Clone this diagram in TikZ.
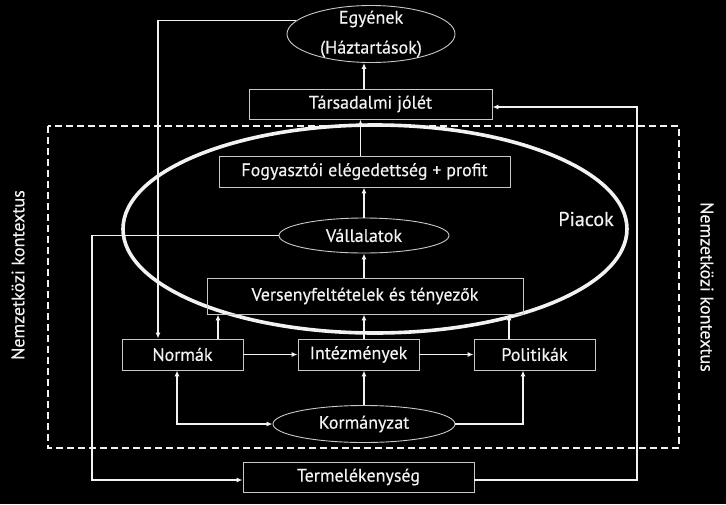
\documentclass[tikz,border=0pt]{standalone}
\usepackage{fontspec}
\setmainfont{PT Sans}[FakeBold=0.4]
\usetikzlibrary{arrows.meta,positioning,shapes.geometric,calc}
\definecolor{InkWhite}{HTML}{F2F2F2}
\definecolor{EdgeGray}{HTML}{C8C8C8}
\tikzset{
  panel/.style={draw=EdgeGray, line width=0.9pt, text=InkWhite, align=center,
    inner sep=0pt, font=\fontsize{18}{21}\selectfont},
  oval/.style={panel, ellipse},
  market/.style={draw=InkWhite, line width=3.6pt, ellipse, inner sep=0pt},
  wire/.style={-{Latex[length=6pt,width=5pt]}, draw=InkWhite, line width=1.3pt},
  bothwire/.style={wire, {Latex[length=6pt,width=5pt]}-{Latex[length=6pt,width=5pt]}},
  frame/.style={draw=InkWhite, line width=1.5pt, dash pattern=on 7pt off 4pt},
  sidelabel/.style={text=InkWhite, font=\fontsize{18}{21}\selectfont}
}

\begin{document}
\begin{tikzpicture}[x=1pt, y=-1pt]
  \fill[black] (0,0) rectangle (726,504);
  \useasboundingbox (0,0) rectangle (726,504);
  % context frame and market oval
  \draw[frame] (48,126) rectangle (679,448);
  \node[market, minimum width=504, minimum height=208] (piac) at (375,229) {};
  \node[sidelabel, font=\fontsize{20}{24}\selectfont] (piaclbl) at (586,219) {Piacok};
  \node[sidelabel, rotate=90] (ctxleft) at (18,275) {Nemzetközi kontextus};
  \node[sidelabel, rotate=-90] (ctxright) at (707,287) {Nemzetközi kontextus};
  % nodes
  \node[oval, minimum width=168, minimum height=57, inner sep=-10pt,
    font=\fontsize{18}{30}\selectfont] (egy) at (371,34) {Egyének\\(Háztartások)};
  \node[panel, minimum width=243, minimum height=30] (soc) at (370.5,104) {Társadalmi jólét};
  \node[panel, minimum width=291, minimum height=31] (fogy) at (364.5,171.5) {Fogyasztói elégedettség + profit};
  \node[oval, minimum width=170, minimum height=35, inner sep=-4pt] (vall) at (364,235.5) {Vállalatok};
  \node[panel, minimum width=316, minimum height=36] (vers) at (365,296) {Versenyfeltételek és tényezők};
  \node[panel, minimum width=121, minimum height=31] (norm) at (182.5,354.5) {Normák};
  \node[panel, minimum width=121, minimum height=31] (inst) at (358.5,354.5) {Intézmények};
  \node[panel, minimum width=121, minimum height=31] (pol) at (534.5,354.5) {Politikák};
  \node[oval, minimum width=182, minimum height=37, inner sep=-4pt] (gov) at (364,424) {Kormányzat};
  \node[panel, minimum width=231, minimum height=30] (term) at (358.5,477) {Termelékenység};
  % connectors
  \draw[wire] (soc.north -| vall) -- (egy.south -| vall);
  \draw[wire] ($(fogy.north)+(-4,0)$) -- ($(soc.south)+(-10,0)$);
  \draw[wire] (vall.north) -- (fogy.south -| vall);
  \draw[wire] (vers.north -| vall) -- (vall.south);
  \draw[wire] (inst.north -| vall) -- (vers.south -| vall);
  \draw[wire] ($(norm.north)+(35.5,0)$) -- ($(vers.south)+(-147,0)$);
  \draw[wire] ($(pol.north)+(-25.5,0)$) -- ($(vers.south)+(144,0)$);
  \draw[wire] (egy.170) -| ($(norm.north)+(-24.5,0)$);
  \draw[wire] (norm) -- (inst);
  \draw[wire] (inst) -- (pol);
  \draw[wire] (gov.north) -- (inst.south -| gov);
  \draw[bothwire] ($(norm.south)+(-5.5,0)$) |- (gov.west);
  \draw[wire] (gov.east) -| ($(pol.south)+(-11.5,0)$);
  \draw[wire] (vall.west) -| (92,480) -- (term.west |- 0,480);
  \draw[wire] (term.east |- 0,480) -| (637,107) -- (soc.east |- 0,107);
\end{tikzpicture}
\end{document}
